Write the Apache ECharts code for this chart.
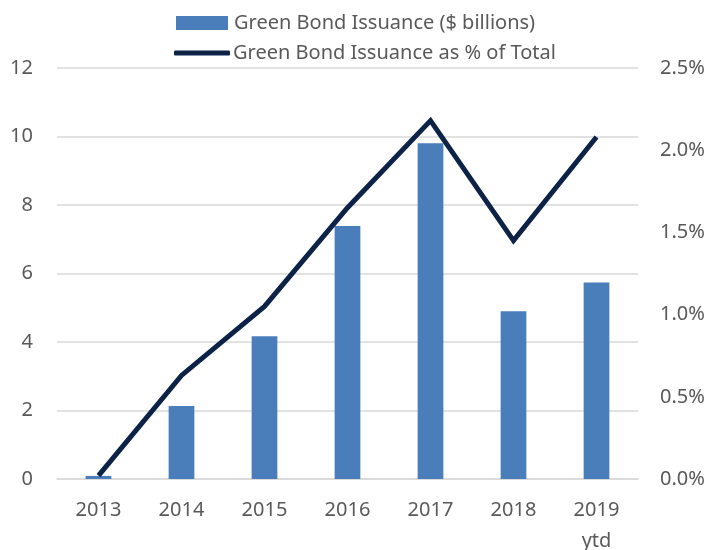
<!DOCTYPE html>
<html>
<head>
<meta charset="utf-8">
<script src="https://cdn.jsdelivr.net/npm/echarts@6/dist/echarts.min.js"></script>
<style>
  html, body { margin: 0; padding: 0; background: #fff; }
  #chart { width: 711px; height: 550px; }
</style>
</head>
<body>
<div id="chart"></div>
<script>
// 数据
const years = ['2013', '2014', '2015', '2016', '2017', '2018', '2019\nytd']
const issuance = [0.09, 2.13, 4.17, 7.39, 9.80, 4.90, 5.74]
const sharePct = [0.02, 0.63, 1.05, 1.65, 2.18, 1.45, 2.08]

const font = 'Noto Sans'
const textColor = '#595959'
const navy = '#0c2347'

const chart = echarts.init(document.getElementById('chart'))

const option = {
  animation: false,
  textStyle: { fontFamily: font },
  legend: [
    {
      data: [{ name: 'Green Bond Issuance ($ billions)', icon: 'rect' }],
      left: 171,
      top: 8,
      itemWidth: 52,
      itemHeight: 14,
      textStyle: { fontFamily: font, fontSize: 20, color: textColor, padding: [0, 0, 0, 1] }
    },
    {
      data: [{ name: 'Green Bond Issuance as % of Total', icon: 'roundRect' }],
      left: 169,
      top: 38,
      itemWidth: 56,
      itemHeight: 5,
      itemStyle: { color: navy },
      textStyle: { fontFamily: font, fontSize: 20, color: textColor, padding: [0, 0, 0, -2] }
    }
  ],
  grid: {
    left: 57,
    right: 73,
    top: 68,
    bottom: 71,
    outerBoundsMode: 'none'
  },
  xAxis: {
    type: 'category',
    data: years,
    axisTick: { show: false },
    axisLine: { lineStyle: { color: '#d9d9d9', width: 1.5 } },
    axisLabel: {
      color: textColor,
      fontSize: 20,
      margin: 16,
      lineHeight: 31
    }
  },
  yAxis: [
    {
      type: 'value',
      min: 0,
      max: 12,
      interval: 2,
      axisLine: { show: false },
      axisTick: { show: false },
      splitLine: { lineStyle: { color: '#d9d9d9', width: 1.5 } },
      axisLabel: { color: textColor, fontSize: 20, margin: 24 }
    },
    {
      type: 'value',
      min: 0,
      max: 2.5,
      interval: 0.5,
      axisLine: { show: false },
      axisTick: { show: false },
      splitLine: { show: false },
      axisLabel: {
        color: textColor,
        fontSize: 20,
        margin: 22,
        formatter: v => v.toFixed(1) + '%'
      }
    }
  ],
  series: [
    {
      name: 'Green Bond Issuance ($ billions)',
      type: 'bar',
      data: issuance,
      barWidth: '31%',
      itemStyle: { color: '#4a7ebb' }
    },
    {
      name: 'Green Bond Issuance as % of Total',
      type: 'line',
      yAxisIndex: 1,
      data: sharePct,
      symbol: 'none',
      lineStyle: { color: navy, width: 5, join: 'miter' },
      itemStyle: { color: navy }
    }
  ]
}

chart.setOption(option)
</script>
</body>
</html>
